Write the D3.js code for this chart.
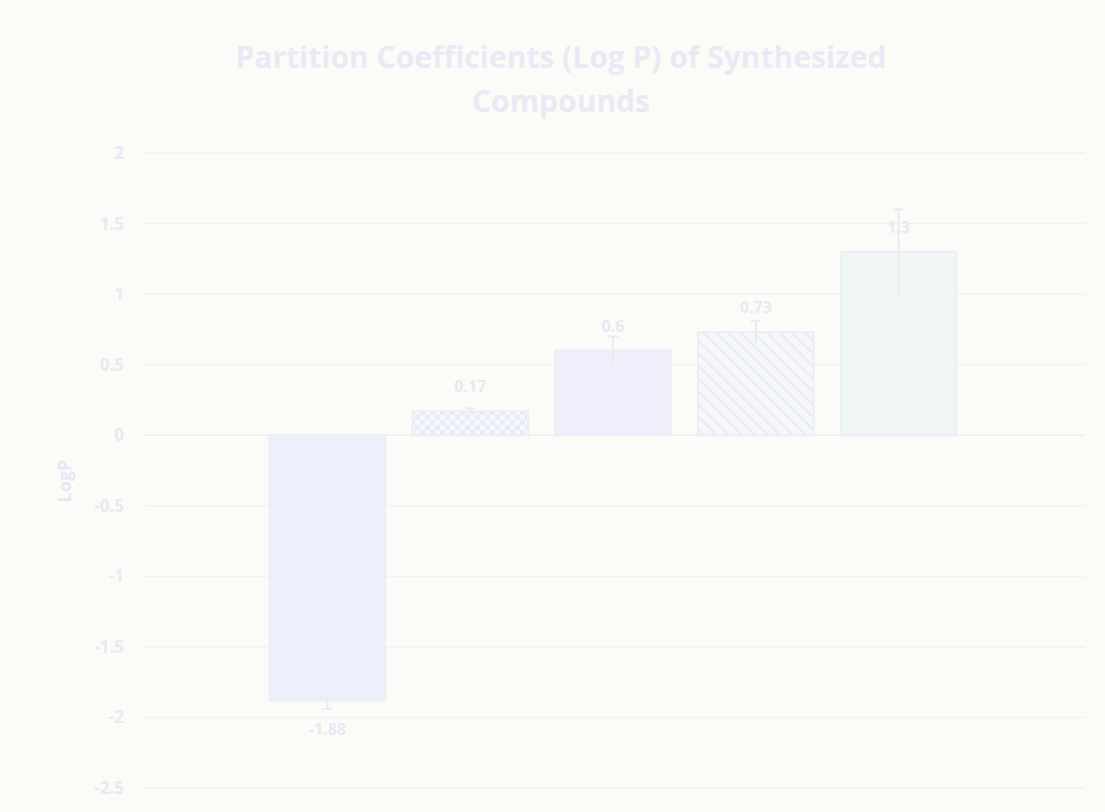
<!DOCTYPE html>
<html>
<head>
<meta charset="utf-8">
<script src="https://cdn.jsdelivr.net/npm/d3@7"></script>
<style>
  body { margin: 0; background: #fbfcf7; }
  svg { display: block; }
  text { font-family: "Open Sans", "DejaVu Sans", sans-serif; font-weight: bold; }
</style>
</head>
<body>
<div id="chart"></div>
<script>
// 데이터
const categories = ["Compound 1", "Compound 2", "Compound 3", "Compound 4", "Compound 5"];
const logP = [-1.88, 0.17, 0.6, 0.73, 1.3];
const errors = [0.06, 0.02, 0.1, 0.08, 0.3];
const valueLabels = ["-1.88", "0.17", "0.6", "0.73", "1.3"];
const yTicks = [2, 1.5, 1, 0.5, 0, -0.5, -1, -1.5, -2, -2.5];
const fills = ["#edf0fa", "url(#checker)", "#eeeffa", "url(#hatch)", "#eff6f4"];

const width = 1105, height = 812;
const textColor = "#e7e9f5";

const svg = d3.select("#chart")
  .append("svg")
  .attr("width", width)
  .attr("height", height);

// 패턴
const defs = svg.append("defs");
const checker = defs.append("pattern")
  .attr("id", "checker")
  .attr("patternUnits", "userSpaceOnUse")
  .attr("width", 10).attr("height", 10);
checker.append("rect").attr("width", 10).attr("height", 10).attr("fill", "#f6f7fb");
checker.append("rect").attr("width", 5).attr("height", 5).attr("fill", "#e9ebf6");
checker.append("rect").attr("x", 5).attr("y", 5).attr("width", 5).attr("height", 5).attr("fill", "#e9ebf6");

const hatch = defs.append("pattern")
  .attr("id", "hatch")
  .attr("patternUnits", "userSpaceOnUse")
  .attr("width", 9).attr("height", 9)
  .attr("patternTransform", "rotate(-45)");
hatch.append("rect").attr("width", 9).attr("height", 9).attr("fill", "#f6f7f8");
hatch.append("line").attr("x1", 0).attr("y1", 0).attr("x2", 0).attr("y2", 9)
  .attr("stroke", "#e8ebf2").attr("stroke-width", 4);

// 스케일
const x = d3.scaleBand()
  .domain(categories)
  .range([256, 970])
  .paddingInner(0.19)
  .paddingOuter(0.095);

const y = d3.scaleLinear()
  .domain([-2.5, 2])
  .range([788, 153]);

// 격자선
svg.selectAll("line.grid")
  .data(yTicks)
  .enter()
  .append("line")
  .attr("class", "grid")
  .attr("x1", 145).attr("x2", 1085)
  .attr("y1", d => y(d)).attr("y2", d => y(d))
  .attr("stroke", d => d === 0 ? "#eceef3" : "#f1f3f1")
  .attr("stroke-width", 1.5);

// y축
const yAxis = svg.append("g")
  .attr("transform", "translate(127,0)")
  .call(d3.axisLeft(y).tickValues(yTicks).tickSize(0).tickFormat(d => String(d)));
yAxis.select(".domain").remove();
yAxis.selectAll("text")
  .attr("fill", textColor)
  .attr("font-size", 17);

svg.append("text")
  .attr("transform", "translate(71,481) rotate(-90)")
  .attr("text-anchor", "middle")
  .attr("font-size", 18)
  .attr("fill", "#e6e8f5")
  .text("LogP");

// 막대
svg.selectAll("rect.bar")
  .data(logP)
  .enter()
  .append("rect")
  .attr("class", "bar")
  .attr("x", (d, i) => x(categories[i]))
  .attr("width", x.bandwidth())
  .attr("y", d => y(Math.max(0, d)))
  .attr("height", d => Math.abs(y(d) - y(0)))
  .attr("fill", (d, i) => fills[i])
  .attr("stroke", "#eceef6")
  .attr("stroke-width", 2);

// 오차 막대
const err = svg.selectAll("g.err")
  .data(logP)
  .enter()
  .append("g")
  .attr("class", "err")
  .attr("stroke", "#e8ebf3")
  .attr("stroke-width", 2);
err.append("line")
  .attr("x1", (d, i) => x(categories[i]) + x.bandwidth() / 2)
  .attr("x2", (d, i) => x(categories[i]) + x.bandwidth() / 2)
  .attr("y1", (d, i) => y(d - errors[i]))
  .attr("y2", (d, i) => y(d + errors[i]));
err.append("line")
  .attr("x1", (d, i) => x(categories[i]) + x.bandwidth() / 2 - 5)
  .attr("x2", (d, i) => x(categories[i]) + x.bandwidth() / 2 + 5)
  .attr("y1", (d, i) => y(d + (d >= 0 ? errors[i] : -errors[i])))
  .attr("y2", (d, i) => y(d + (d >= 0 ? errors[i] : -errors[i])));

// 값 라벨
svg.selectAll("text.val")
  .data(logP)
  .enter()
  .append("text")
  .attr("class", "val")
  .attr("text-anchor", "middle")
  .attr("font-size", 16)
  .attr("fill", textColor)
  .attr("x", (d, i) => x(categories[i]) + x.bandwidth() / 2)
  .attr("y", d => d >= 0 ? y(d) - 19 : y(d) + 34)
  .text((d, i) => valueLabels[i]);

// 제목
const title = svg.append("text")
  .attr("text-anchor", "middle")
  .attr("font-size", 30)
  .attr("fill", "#e9eaf6");
title.append("tspan").attr("x", 561).attr("y", 68).text("Partition Coefficients (Log P) of Synthesized");
title.append("tspan").attr("x", 561).attr("y", 112).text("Compounds");
</script>
</body>
</html>
